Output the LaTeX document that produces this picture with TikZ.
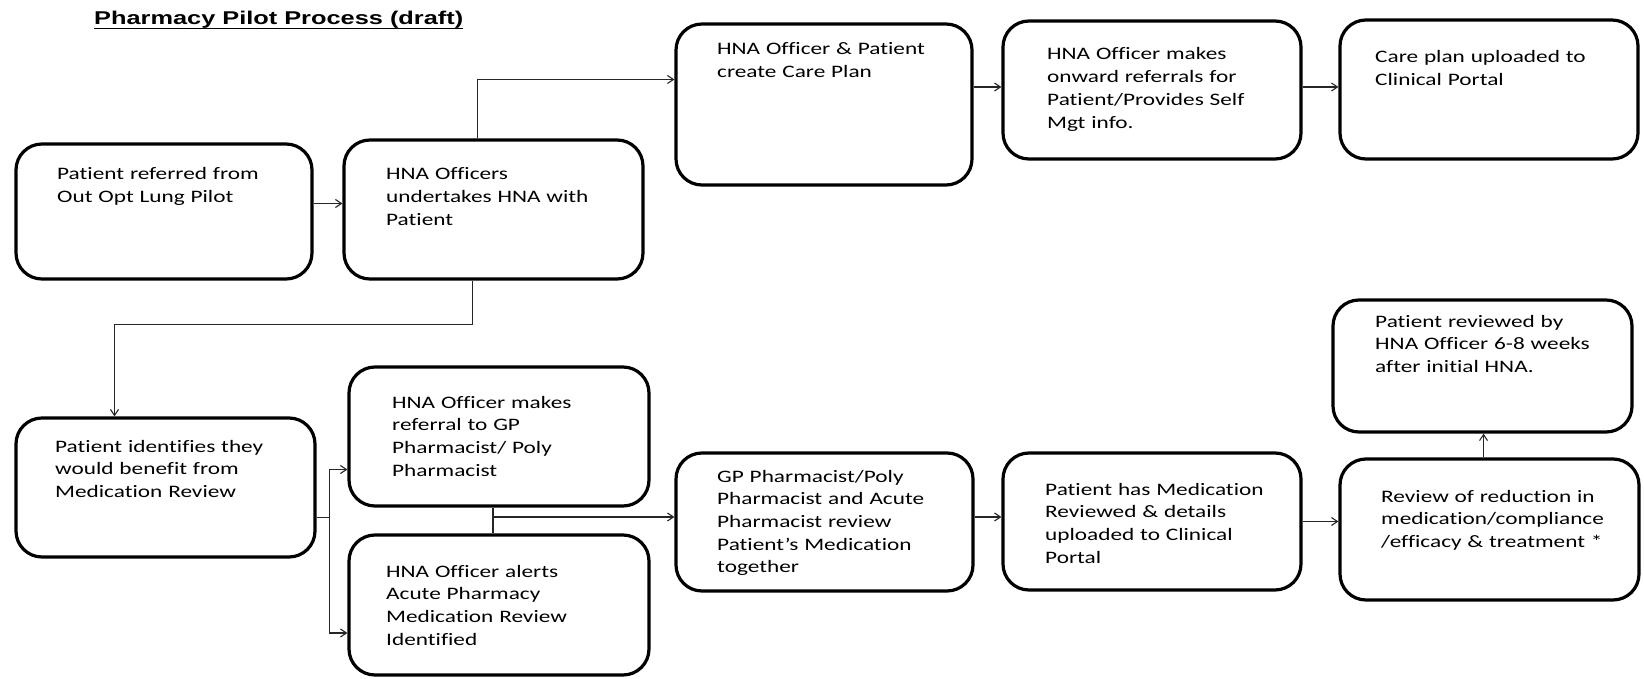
\documentclass[tikz,border=0pt]{standalone}
\usepackage{fontspec}
\usetikzlibrary{arrows.meta}
\newfontfamily\boxfont[FakeStretch=1.33,Ligatures=NoCommon]{Carlito}
\newfontfamily\headfont[FakeStretch=1.37]{Liberation Sans}

\tikzset{
  box/.style={draw=black, line width=3.2pt, rounded corners=26pt, inner sep=0pt},
  txt/.style={anchor=base west, inner sep=0pt, text width=280pt, align=left,
    font=\boxfont\fontsize{17.5}{22.7}\selectfont},
  link/.style={draw=black!85, line width=1.2pt},
  arr/.style={link, -{Straight Barb[length=6pt,width=8pt,line width=1.1pt]}},
}

\begin{document}
\begin{tikzpicture}[x=1pt,y=-1pt]
\useasboundingbox (0,0) rectangle (1644,679);

% title
\node[anchor=base west, inner sep=0pt, font=\headfont\bfseries\fontsize{18.5}{22}\selectfont]
  (title) at (94,25) {Pharmacy Pilot Process (draft)};
\draw[line width=1.8pt] ([yshift=-3.5pt]title.base west) -- ([yshift=-3.5pt]title.base east);

% process boxes
\node[box, minimum width=296pt, minimum height=135pt] (A) at (164,211.5) {};
\node[box, minimum width=299pt, minimum height=139pt] (B) at (493.5,209.5) {};
\node[box, minimum width=296pt, minimum height=161pt] (C) at (824,104.5) {};
\node[box, minimum width=298pt, minimum height=138pt] (D) at (1152,90) {};
\node[box, minimum width=298pt, minimum height=139pt] (E) at (1489,89.5) {};
\node[box, minimum width=299pt, minimum height=139pt] (F) at (165.5,487.5) {};
\node[box, minimum width=300pt, minimum height=139pt] (G) at (499,436.5) {};
\node[box, minimum width=300pt, minimum height=140pt] (H) at (499,605) {};
\node[box, minimum width=297pt, minimum height=138pt] (I) at (824.5,522) {};
\node[box, minimum width=298pt, minimum height=137pt] (J) at (1152,521.5) {};
\node[box, minimum width=299pt, minimum height=141pt] (K) at (1489.5,529.5) {};
\node[box, minimum width=299pt, minimum height=132pt] (L) at (1482.5,366) {};

% box texts
\node[txt] (tA) at (57,180) {Patient referred from\\Out Opt Lung Pilot};
\node[txt] (tB) at (386,180) {HNA Officers\\undertakes HNA with\\Patient};
\node[txt] (tC) at (717,55) {HNA Officer \& Patient\\create Care Plan};
\node[txt] (tD) at (1047,60) {HNA Officer makes\\onward referrals for\\Patient/Provides Self\\Mgt info.};
\node[txt] (tE) at (1375,63) {Care plan uploaded to\\Clinical Portal};
\node[txt] (tF) at (55,452) {Patient identifies they\\would benefit from\\Medication Review};
\node[txt] (tG) at (392,408) {HNA Officer makes\\referral to GP\\Pharmacist/ Poly\\Pharmacist};
\node[txt] (tH) at (386,577) {HNA Officer alerts\\Acute Pharmacy\\Medication Review\\Identified};
\node[txt] (tI) at (717,482) {GP Pharmacist/Poly\\Pharmacist and Acute\\Pharmacist review\\Patient’s Medication\\together};
\node[txt] (tJ) at (1045,495) {Patient has Medication\\Reviewed \& details\\uploaded to Clinical\\Portal};
\node[txt] (tK) at (1381,502) {Review of reduction in\\medication/compliance\\/efficacy \& treatment *};
\node[txt] (tL) at (1375,327) {Patient reviewed by\\HNA Officer 6-8 weeks\\after initial HNA.};

% connectors, top row
\draw[arr] ([yshift=8pt]A.east) -- ([yshift=8pt]A.east -| B.west);
\draw[arr] ([xshift=-16pt]B.north) |- ([yshift=25pt]C.west);
\draw[arr] ([yshift=3pt]D.west -| C.east) -- ([yshift=3pt]D.west);
\draw[arr] ([yshift=3pt]D.east) -- ([yshift=3pt]D.east -| E.west);

% connectors, down to the medication review branch
\draw[arr] ([xshift=-21pt]B.south) -- ++(0,44) -| ([xshift=-51pt]F.north);
\draw[link] ([yshift=-30pt]F.east) -- ++(13,0) coordinate (fork);
\draw[arr] (fork) |- ([yshift=-33pt]G.west);
\draw[arr] (fork) |- ([yshift=-28pt]H.west);

% connectors, bottom row
\path ([xshift=-6pt]G.south) coordinate (gs) ([xshift=-6pt]H.north) coordinate (hn)
      ([yshift=5pt]I.west) coordinate (iw);
\draw[link] (gs) -- (hn);
\draw[arr] (gs |- iw) -- (iw);
\draw[arr] ([yshift=5pt]I.east) -- ([yshift=5pt]I.east -| J.west);
\draw[arr] (J.east) -- (J.east -| K.west);
\draw[arr] ([xshift=-6pt]K.north) -- ([xshift=-6pt]K.north |- L.south);
\end{tikzpicture}
\end{document}
